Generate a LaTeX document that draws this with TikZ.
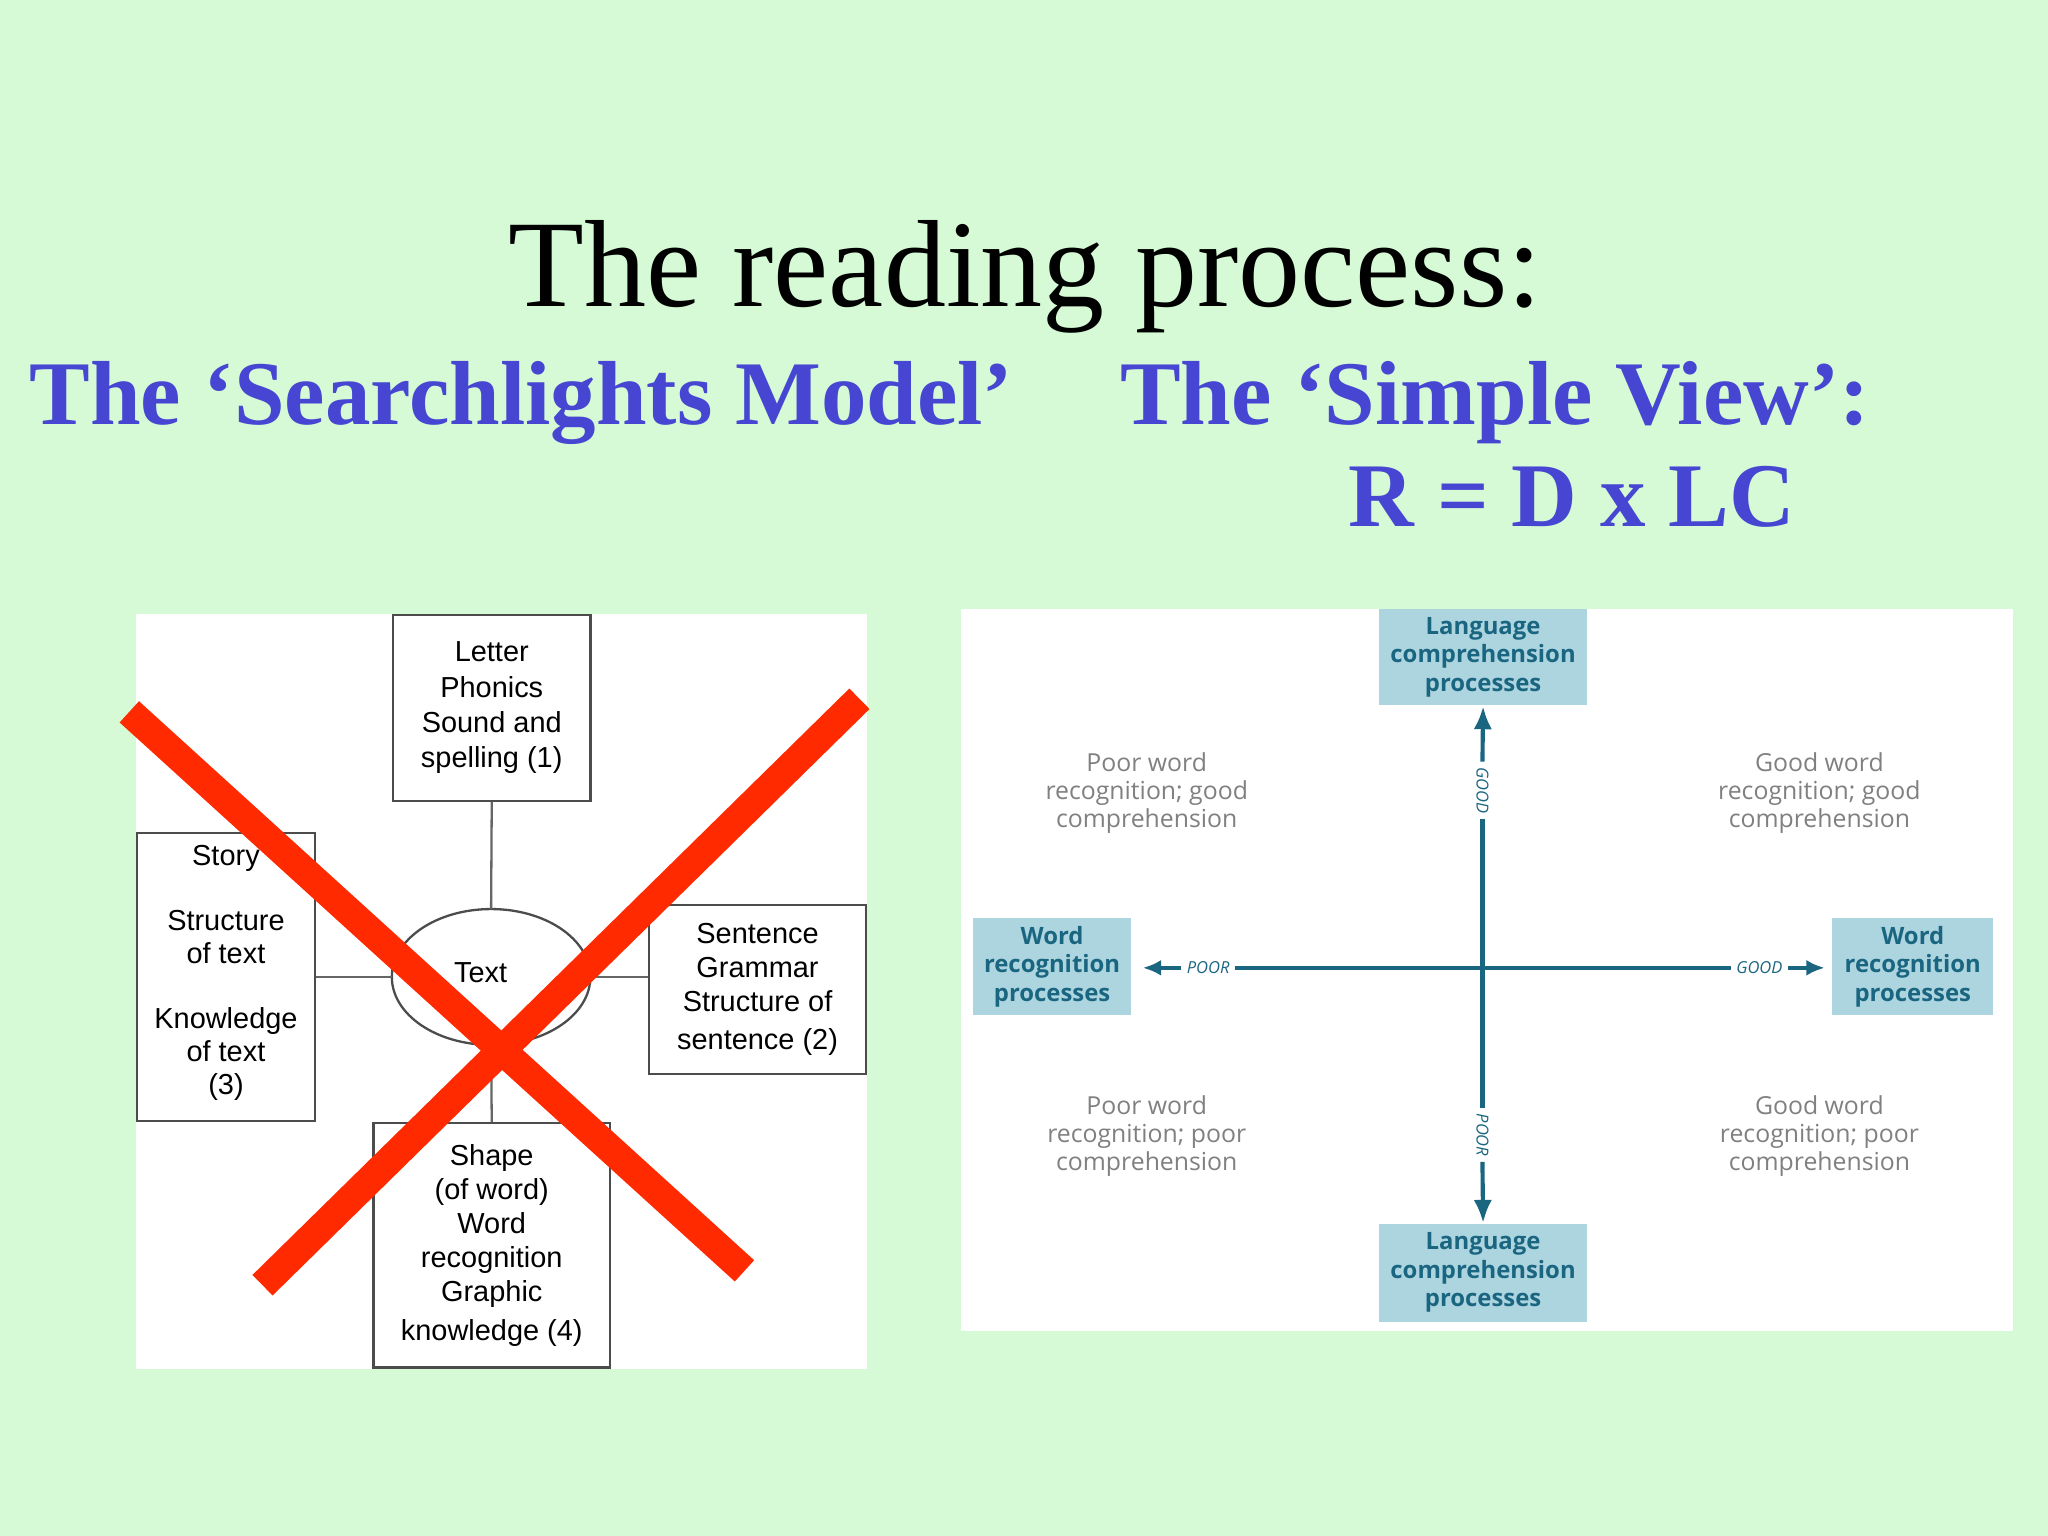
\documentclass[tikz,border=0pt]{standalone}
\usepackage{fontspec}
\setmainfont{Liberation Serif}
\newfontfamily\arialf{Liberation Sans}
\newfontfamily\sansf{Open Sans}
\usetikzlibrary{arrows.meta}
\definecolor{bg}{HTML}{D5FAD5}
\definecolor{ttl}{HTML}{4646D2}
\definecolor{teal}{HTML}{1A6680}
\definecolor{lbox}{HTML}{ADD5E0}
\definecolor{gtx}{HTML}{808080}
\definecolor{xred}{HTML}{FF2A00}
\tikzset{
 lbl/.style={font=\arialf\fontsize{6.3}{7.4}\selectfont,align=center,inner sep=0},
 sbox/.style={draw=black!70,line width=0.5pt,fill=white},
 bbox/.style={fill=lbox,inner sep=1pt,font=\sansf\bfseries\fontsize{5.2}{6.2}\selectfont,text=teal,align=center},
 gt/.style={font=\sansf\fontsize{5.4}{6.1}\selectfont,text=gtx,align=center},
 ax/.style={teal,line width=0.9pt},
 tiny/.style={font=\sansf\itshape\fontsize{3.6}{4}\selectfont,text=teal,inner sep=1pt}
}
\begin{document}
\begin{tikzpicture}[x=0.01cm,y=-0.01cm]
\fill[bg] (0,0) rectangle (1568,1176);
\useasboundingbox (0,0) rectangle (1568,1176);
\node[anchor=base,font=\fontsize{27}{27}\selectfont] (title) at (785,235) {The reading process:};
\node[anchor=base west,inner sep=0,text=ttl,font=\bfseries\fontsize{19.8}{20}\selectfont] (h1) at (22,325) {The ‘Searchlights Model’};
\node[anchor=base west,inner sep=0,text=ttl,font=\bfseries\fontsize{19.8}{20}\selectfont] (h2) at (857,325) {The ‘Simple View’:};
\node[anchor=base west,inner sep=0,text=ttl,font=\bfseries\fontsize{19.8}{20}\selectfont] (h3) at (1032,403) {R = D x LC};
% left panel
\fill[white] (104,470) rectangle (664,1048);
\node[sbox,minimum width=1.51cm,minimum height=1.42cm] (letter) at (376.5,542) {};
\node[lbl] at (letter.center) {Letter\\[0.3pt]Phonics\\[0.3pt]Sound and\\[0.3pt]spelling (1)};
\node[sbox,minimum width=1.36cm,minimum height=2.2cm] (story) at (173,748) {};
\node[lbl,font=\arialf\fontsize{6.3}{7.2}\selectfont] at (173,745) {Story\\[7pt]Structure\\of text\\[7pt]Knowledge\\of text\\(3)};
\node[sbox,minimum width=1.66cm,minimum height=1.29cm] (sent) at (580,757.5) {};
\node[lbl] at (sent.center) {Sentence\\Grammar\\Structure of\\[1pt]sentence (2)};
\node[sbox,minimum width=1.81cm,minimum height=1.87cm] (shape) at (376.5,953.5) {};
\node[lbl] at (shape.center) {Shape\\(of word)\\Word\\recognition\\Graphic\\[1pt]knowledge (4)};
\draw[draw=black!70,line width=0.5pt] (376,748) ellipse [x radius=76,y radius=52];
\node[lbl,inner sep=2pt] (text) at (368,745) {Text};
\coordinate (et) at (376,696); \coordinate (eb) at (376,800);
\coordinate (el) at (300,748); \coordinate (er) at (452,748);
\draw[black!60,line width=0.5pt] (letter.south) -- (et);
\draw[black!60,line width=0.5pt] (story.east |- el) -- (el);
\draw[black!60,line width=0.5pt] (er) -- (sent.west |- er);
\draw[black!60,line width=0.5pt] (eb) -- (shape.north);
\draw[xred,line width=0.22cm] (99,545) -- (570,973);
\draw[xred,line width=0.22cm] (658,535) -- (201,984);
% right panel
\fill[white] (736,466) rectangle (1541,1019);
\node[bbox,minimum width=1.59cm,minimum height=0.74cm] (top) at (1135.5,503) {Language\\comprehension\\processes};
\node[bbox,minimum width=1.59cm,minimum height=0.75cm] (bot) at (1135.5,974.5) {Language\\comprehension\\processes};
\node[bbox,minimum width=1.21cm,minimum height=0.74cm] (lft) at (805.5,740) {Word\\recognition\\processes};
\node[bbox,minimum width=1.23cm,minimum height=0.74cm] (rgt) at (1464.5,740) {Word\\recognition\\processes};
\node[tiny,rotate=-90] (vg) at (1135,605) {GOOD};
\node[tiny,rotate=-90] (vp) at (1135,869) {POOR};
\node[tiny] (hp) at (925,741) {POOR};
\node[tiny] (hg) at (1347,741) {GOOD};
\draw[ax,-{Latex[length=5pt,width=4pt]}] (vg.west) -- (top.south);
\draw[ax] (vg.east) -- (vp.west);
\draw[ax,-{Latex[length=5pt,width=4pt]}] (vp.east) -- (bot.north);
\draw[ax,-{Latex[length=4pt,width=3.5pt]}] (hp.west) -- (875,741);
\draw[ax] (hp.east) -- (hg.west);
\draw[ax,-{Latex[length=4pt,width=3.5pt]}] (hg.east) -- (1397,741);
\node[gt] (q1) at (878,607) {Poor word\\recognition; good\\comprehension};
\node[gt] (q2) at (1393,607) {Good word\\recognition; good\\comprehension};
\node[gt] (q3) at (878,870) {Poor word\\recognition; poor\\comprehension};
\node[gt] (q4) at (1393,870) {Good word\\recognition; poor\\comprehension};
\end{tikzpicture}
\end{document}
